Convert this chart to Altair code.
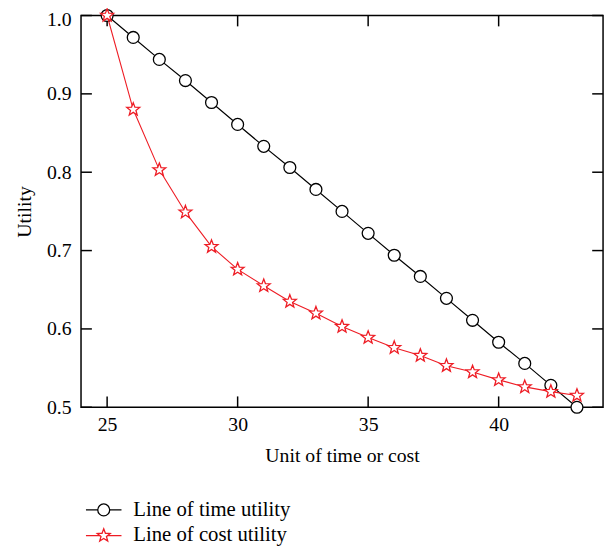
import altair as alt
import pandas as pd

# ---- data ----
units = [25, 26, 27, 28, 29, 30, 31, 32, 33, 34, 35, 36, 37, 38, 39, 40, 41, 42, 43]
time_utility = [1.000, 0.972, 0.944, 0.917, 0.889, 0.861, 0.833, 0.806, 0.778, 0.750,
                0.722, 0.694, 0.667, 0.639, 0.611, 0.583, 0.556, 0.528, 0.500]
cost_utility = [1.000, 0.880, 0.803, 0.749, 0.705, 0.676, 0.655, 0.635, 0.620, 0.603,
                0.589, 0.576, 0.566, 0.553, 0.545, 0.535, 0.526, 0.520, 0.515]
series_names = ["Line of time utility", "Line of cost utility"]
x_ticks = [25, 30, 35, 40]
y_ticks = [0.5, 0.6, 0.7, 0.8, 0.9, 1.0]

W, H = 529, 397
FONT = "Liberation Serif"
FS = 20
LFS = 21
STAR = ("M0,-1L0.247,-0.34L0.951,-0.309L0.399,0.13L0.588,0.809L0,0.42"
        "L-0.588,0.809L-0.399,0.13L-0.951,-0.309L-0.247,-0.34Z")

time_df = pd.DataFrame({"x": units, "y": time_utility})
cost_df = pd.DataFrame({"x": units, "y": cost_utility})

xs = alt.Scale(domain=[24, 44], nice=False, zero=False)
ys = alt.Scale(domain=[0.5, 1.0], nice=False, zero=False)

X = alt.X("x:Q", scale=xs, axis=alt.Axis(
    values=x_ticks, title="Unit of time or cost", grid=False, ticks=False, tickSize=0,
    domain=False, labelPadding=8, labelFontSize=FS, labelFont=FONT, labelColor="black",
    titleFont=FONT, titleFontSize=FS, titleFontWeight="normal", titleColor="black",
    titleX=W / 2, titleY=49, titleBaseline="middle", titleAlign="center"))
Y = alt.Y("y:Q", scale=ys, axis=alt.Axis(
    values=y_ticks, format=".1f", title="Utility", grid=False, ticks=False, tickSize=0,
    domain=False, labelPadding=10, labelFontSize=FS, labelFont=FONT, labelColor="black",
    labelOffset={"condition": {"test": "datum.value >= 1", "value": 4}, "value": 0},
    titleFont=FONT, titleFontSize=FS, titleFontWeight="normal", titleColor="black",
    titleX=-57, titleY=H / 2, titleBaseline="middle", titleAlign="center", titleAngle=-90))

time_line = alt.Chart(time_df).mark_line(color="black", strokeWidth=1.2).encode(x=X, y=Y)
time_pts = alt.Chart(time_df).mark_point(shape="circle", size=145, filled=True, fill="white",
                                         stroke="black", strokeWidth=1.3, opacity=1).encode(x="x:Q", y="y:Q")
cost_line = alt.Chart(cost_df).mark_line(color="#ee1c24", strokeWidth=1.1).encode(x="x:Q", y="y:Q")
cost_pts = alt.Chart(cost_df).mark_point(shape=STAR, size=190, filled=True, fill="white",
                                         stroke="#ee1c24", strokeWidth=1.3, opacity=1).encode(x="x:Q", y="y:Q")

# inward ticks on all four sides
ytick_df = pd.DataFrame({"y": y_ticks})
xtick_df = pd.DataFrame({"x": x_ticks})
tk = dict(color="black", strokeWidth=1.5)
left_t = alt.Chart(ytick_df).mark_rule(**tk).encode(y="y:Q", x=alt.value(0), x2=alt.value(11))
right_t = alt.Chart(ytick_df).mark_rule(**tk).encode(y="y:Q", x=alt.value(W - 11), x2=alt.value(W))
bot_t = alt.Chart(xtick_df).mark_rule(**tk).encode(x="x:Q", y=alt.value(H), y2=alt.value(H - 11))
top_t = alt.Chart(xtick_df).mark_rule(**tk).encode(x="x:Q", y=alt.value(0), y2=alt.value(11))

# legend below the plot
one = pd.DataFrame({"k": [0]})
leg = []
colors = ["black", "#ee1c24"]
shapes = ["circle", STAR]
sizes = [145, 190]
for i, name in enumerate(series_names):
    ly = 501 + 26 * i
    leg.append(alt.Chart(one).mark_rule(color=colors[i], strokeWidth=1.2).encode(
        x=alt.value(5), x2=alt.value(41), y=alt.value(ly)))
    leg.append(alt.Chart(one).mark_point(shape=shapes[i], size=sizes[i], filled=True, fill="white",
                                         stroke=colors[i], strokeWidth=1.3, opacity=1).encode(
        x=alt.value(23), y=alt.value(ly)))
    leg.append(alt.Chart(pd.DataFrame({"t": [name]})).mark_text(
        align="left", baseline="middle", font=FONT, fontSize=LFS, color="black").encode(
        x=alt.value(53), y=alt.value(ly), text="t:N"))

chart = alt.layer(left_t, right_t, bot_t, top_t, time_line, time_pts, cost_line, cost_pts, *leg).properties(
    width=W, height=H,
    autosize=alt.AutoSizeParams(type="none"),
    padding={"left": 74, "top": 4, "right": 4, "bottom": 140},
).configure_view(stroke="black", strokeWidth=1.5)

chart.save("out.html", embed_options={"renderer": "svg", "actions": False})
